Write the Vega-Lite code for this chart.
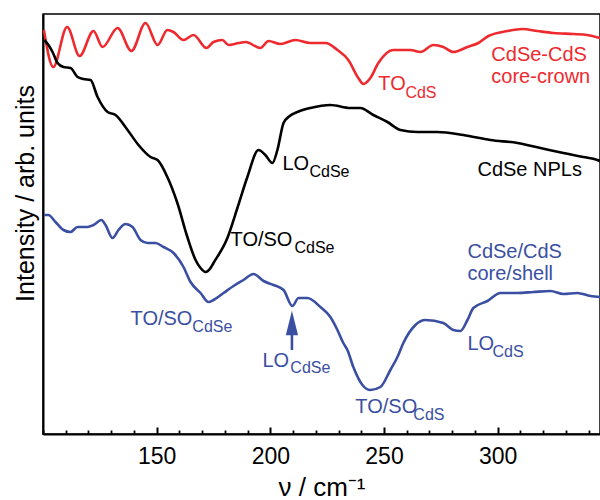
{
  "$schema": "https://vega.github.io/schema/vega-lite/v6.json",
  "width": 557,
  "height": 420,
  "padding": {"left": 43, "top": 14, "right": 0, "bottom": 66},
  "autosize": {"type": "none"},
  "config": {"font": "Liberation Sans", "view": {"stroke": "black", "strokeWidth": 1.5}},
  "datasets": {
    "curves": [
      {"series": "CdSe-CdS core-crown", "x": 100.4, "y": 404}, {"series": "CdSe-CdS core-crown", "x": 104.5, "y": 367}, {"series": "CdSe-CdS core-crown", "x": 110.6, "y": 407}, {"series": "CdSe-CdS core-crown", "x": 116.1, "y": 378}, {"series": "CdSe-CdS core-crown", "x": 122.2, "y": 403}, {"series": "CdSe-CdS core-crown", "x": 126.2, "y": 387}, {"series": "CdSe-CdS core-crown", "x": 132.8, "y": 406}, {"series": "CdSe-CdS core-crown", "x": 138.9, "y": 383}, {"series": "CdSe-CdS core-crown", "x": 145.1, "y": 411}, {"series": "CdSe-CdS core-crown", "x": 150.4, "y": 389}, {"series": "CdSe-CdS core-crown", "x": 154.7, "y": 404}, {"series": "CdSe-CdS core-crown", "x": 157.4, "y": 402}, {"series": "CdSe-CdS core-crown", "x": 161.8, "y": 394}, {"series": "CdSe-CdS core-crown", "x": 166.2, "y": 399}, {"series": "CdSe-CdS core-crown", "x": 171.9, "y": 386}, {"series": "CdSe-CdS core-crown", "x": 175.0, "y": 392}, {"series": "CdSe-CdS core-crown", "x": 178.9, "y": 394}, {"series": "CdSe-CdS core-crown", "x": 181.6, "y": 389}, {"series": "CdSe-CdS core-crown", "x": 186.0, "y": 391}, {"series": "CdSe-CdS core-crown", "x": 189.1, "y": 392}, {"series": "CdSe-CdS core-crown", "x": 195.6, "y": 386}, {"series": "CdSe-CdS core-crown", "x": 199.2, "y": 393}, {"series": "CdSe-CdS core-crown", "x": 204.4, "y": 390}, {"series": "CdSe-CdS core-crown", "x": 211.0, "y": 394}, {"series": "CdSe-CdS core-crown", "x": 217.6, "y": 391}, {"series": "CdSe-CdS core-crown", "x": 224.3, "y": 391}, {"series": "CdSe-CdS core-crown", "x": 229.5, "y": 384}, {"series": "CdSe-CdS core-crown", "x": 234.3, "y": 374}, {"series": "CdSe-CdS core-crown", "x": 238.7, "y": 356}, {"series": "CdSe-CdS core-crown", "x": 240.9, "y": 350}, {"series": "CdSe-CdS core-crown", "x": 244.0, "y": 356}, {"series": "CdSe-CdS core-crown", "x": 247.5, "y": 371}, {"series": "CdSe-CdS core-crown", "x": 254.1, "y": 384}, {"series": "CdSe-CdS core-crown", "x": 261.6, "y": 384}, {"series": "CdSe-CdS core-crown", "x": 266.0, "y": 382}, {"series": "CdSe-CdS core-crown", "x": 271.7, "y": 389}, {"series": "CdSe-CdS core-crown", "x": 276.1, "y": 387}, {"series": "CdSe-CdS core-crown", "x": 280.5, "y": 382}, {"series": "CdSe-CdS core-crown", "x": 286.7, "y": 387}, {"series": "CdSe-CdS core-crown", "x": 291.5, "y": 391}, {"series": "CdSe-CdS core-crown", "x": 295.9, "y": 398}, {"series": "CdSe-CdS core-crown", "x": 304.3, "y": 403}, {"series": "CdSe-CdS core-crown", "x": 310.9, "y": 405}, {"series": "CdSe-CdS core-crown", "x": 317.5, "y": 403}, {"series": "CdSe-CdS core-crown", "x": 324.5, "y": 401}, {"series": "CdSe-CdS core-crown", "x": 333.3, "y": 400}, {"series": "CdSe-CdS core-crown", "x": 339.4, "y": 399}, {"series": "CdSe-CdS core-crown", "x": 345.0, "y": 396},
      {"series": "CdSe NPLs", "x": 100.5, "y": 394}, {"series": "CdSe NPLs", "x": 102.4, "y": 389}, {"series": "CdSe NPLs", "x": 104.2, "y": 382}, {"series": "CdSe NPLs", "x": 106.4, "y": 371}, {"series": "CdSe NPLs", "x": 109.0, "y": 367}, {"series": "CdSe NPLs", "x": 112.1, "y": 366}, {"series": "CdSe NPLs", "x": 115.2, "y": 357}, {"series": "CdSe NPLs", "x": 117.8, "y": 355}, {"series": "CdSe NPLs", "x": 120.9, "y": 354}, {"series": "CdSe NPLs", "x": 124.0, "y": 337}, {"series": "CdSe NPLs", "x": 128.4, "y": 322}, {"series": "CdSe NPLs", "x": 131.9, "y": 319}, {"series": "CdSe NPLs", "x": 137.2, "y": 304}, {"series": "CdSe NPLs", "x": 142.0, "y": 289}, {"series": "CdSe NPLs", "x": 147.3, "y": 277}, {"series": "CdSe NPLs", "x": 150.4, "y": 274}, {"series": "CdSe NPLs", "x": 154.7, "y": 257}, {"series": "CdSe NPLs", "x": 159.1, "y": 231}, {"series": "CdSe NPLs", "x": 163.5, "y": 197}, {"series": "CdSe NPLs", "x": 167.1, "y": 174}, {"series": "CdSe NPLs", "x": 169.3, "y": 166}, {"series": "CdSe NPLs", "x": 171.5, "y": 162}, {"series": "CdSe NPLs", "x": 173.7, "y": 166}, {"series": "CdSe NPLs", "x": 175.0, "y": 171}, {"series": "CdSe NPLs", "x": 181.1, "y": 196}, {"series": "CdSe NPLs", "x": 185.5, "y": 226}, {"series": "CdSe NPLs", "x": 189.9, "y": 257}, {"series": "CdSe NPLs", "x": 194.8, "y": 284}, {"series": "CdSe NPLs", "x": 197.8, "y": 279}, {"series": "CdSe NPLs", "x": 200.9, "y": 271}, {"series": "CdSe NPLs", "x": 203.1, "y": 284}, {"series": "CdSe NPLs", "x": 205.8, "y": 311}, {"series": "CdSe NPLs", "x": 208.5, "y": 318}, {"series": "CdSe NPLs", "x": 211.9, "y": 322}, {"series": "CdSe NPLs", "x": 217.6, "y": 326}, {"series": "CdSe NPLs", "x": 226.4, "y": 329}, {"series": "CdSe NPLs", "x": 235.2, "y": 326}, {"series": "CdSe NPLs", "x": 239.6, "y": 326}, {"series": "CdSe NPLs", "x": 245.3, "y": 319}, {"series": "CdSe NPLs", "x": 251.5, "y": 312}, {"series": "CdSe NPLs", "x": 257.2, "y": 304}, {"series": "CdSe NPLs", "x": 264.7, "y": 302}, {"series": "CdSe NPLs", "x": 273.5, "y": 302}, {"series": "CdSe NPLs", "x": 284.9, "y": 299}, {"series": "CdSe NPLs", "x": 296.8, "y": 294}, {"series": "CdSe NPLs", "x": 308.7, "y": 291}, {"series": "CdSe NPLs", "x": 318.8, "y": 286}, {"series": "CdSe NPLs", "x": 328.9, "y": 281}, {"series": "CdSe NPLs", "x": 337.7, "y": 277}, {"series": "CdSe NPLs", "x": 343.8, "y": 274}, {"series": "CdSe NPLs", "x": 345.0, "y": 273},
      {"series": "CdSe/CdS core/shell", "x": 100.5, "y": 219}, {"series": "CdSe/CdS core/shell", "x": 102.4, "y": 219}, {"series": "CdSe/CdS core/shell", "x": 105.5, "y": 212}, {"series": "CdSe/CdS core/shell", "x": 109.0, "y": 204}, {"series": "CdSe/CdS core/shell", "x": 112.1, "y": 202}, {"series": "CdSe/CdS core/shell", "x": 115.2, "y": 207}, {"series": "CdSe/CdS core/shell", "x": 119.6, "y": 207}, {"series": "CdSe/CdS core/shell", "x": 122.2, "y": 209}, {"series": "CdSe/CdS core/shell", "x": 125.7, "y": 214}, {"series": "CdSe/CdS core/shell", "x": 127.5, "y": 209}, {"series": "CdSe/CdS core/shell", "x": 130.6, "y": 196}, {"series": "CdSe/CdS core/shell", "x": 133.2, "y": 204}, {"series": "CdSe/CdS core/shell", "x": 136.3, "y": 210}, {"series": "CdSe/CdS core/shell", "x": 139.4, "y": 207}, {"series": "CdSe/CdS core/shell", "x": 142.9, "y": 194}, {"series": "CdSe/CdS core/shell", "x": 146.0, "y": 191}, {"series": "CdSe/CdS core/shell", "x": 149.5, "y": 191}, {"series": "CdSe/CdS core/shell", "x": 153.0, "y": 187}, {"series": "CdSe/CdS core/shell", "x": 157.4, "y": 181}, {"series": "CdSe/CdS core/shell", "x": 161.8, "y": 167}, {"series": "CdSe/CdS core/shell", "x": 164.9, "y": 152}, {"series": "CdSe/CdS core/shell", "x": 169.3, "y": 141}, {"series": "CdSe/CdS core/shell", "x": 172.8, "y": 132}, {"series": "CdSe/CdS core/shell", "x": 175.0, "y": 134}, {"series": "CdSe/CdS core/shell", "x": 179.4, "y": 141}, {"series": "CdSe/CdS core/shell", "x": 183.8, "y": 148}, {"series": "CdSe/CdS core/shell", "x": 188.2, "y": 154}, {"series": "CdSe/CdS core/shell", "x": 192.6, "y": 160}, {"series": "CdSe/CdS core/shell", "x": 197.0, "y": 153}, {"series": "CdSe/CdS core/shell", "x": 201.4, "y": 149}, {"series": "CdSe/CdS core/shell", "x": 205.8, "y": 144}, {"series": "CdSe/CdS core/shell", "x": 209.7, "y": 128}, {"series": "CdSe/CdS core/shell", "x": 212.4, "y": 136}, {"series": "CdSe/CdS core/shell", "x": 216.3, "y": 136}, {"series": "CdSe/CdS core/shell", "x": 222.0, "y": 127}, {"series": "CdSe/CdS core/shell", "x": 226.4, "y": 117}, {"series": "CdSe/CdS core/shell", "x": 229.5, "y": 104}, {"series": "CdSe/CdS core/shell", "x": 232.1, "y": 91}, {"series": "CdSe/CdS core/shell", "x": 233.9, "y": 84}, {"series": "CdSe/CdS core/shell", "x": 236.5, "y": 67}, {"series": "CdSe/CdS core/shell", "x": 240.5, "y": 49}, {"series": "CdSe/CdS core/shell", "x": 244.0, "y": 44}, {"series": "CdSe/CdS core/shell", "x": 248.4, "y": 47}, {"series": "CdSe/CdS core/shell", "x": 252.8, "y": 64}, {"series": "CdSe/CdS core/shell", "x": 255.9, "y": 77}, {"series": "CdSe/CdS core/shell", "x": 258.5, "y": 91}, {"series": "CdSe/CdS core/shell", "x": 263.8, "y": 109}, {"series": "CdSe/CdS core/shell", "x": 268.2, "y": 114}, {"series": "CdSe/CdS core/shell", "x": 276.1, "y": 111}, {"series": "CdSe/CdS core/shell", "x": 280.5, "y": 104}, {"series": "CdSe/CdS core/shell", "x": 283.6, "y": 103}, {"series": "CdSe/CdS core/shell", "x": 286.7, "y": 114}, {"series": "CdSe/CdS core/shell", "x": 289.3, "y": 126}, {"series": "CdSe/CdS core/shell", "x": 295.5, "y": 133}, {"series": "CdSe/CdS core/shell", "x": 301.2, "y": 141}, {"series": "CdSe/CdS core/shell", "x": 308.7, "y": 141}, {"series": "CdSe/CdS core/shell", "x": 315.7, "y": 142}, {"series": "CdSe/CdS core/shell", "x": 323.2, "y": 143}, {"series": "CdSe/CdS core/shell", "x": 328.9, "y": 140}, {"series": "CdSe/CdS core/shell", "x": 335.0, "y": 141}, {"series": "CdSe/CdS core/shell", "x": 340.8, "y": 138}, {"series": "CdSe/CdS core/shell", "x": 345.0, "y": 137}
    ],
    "labels": [
      {"series": "CdSe-CdS core-crown", "part": "main", "text": "TO", "x": 247.5, "y": 344},
      {"series": "CdSe-CdS core-crown", "part": "sub", "text": "CdS", "x": 259.4, "y": 336},
      {"series": "CdSe-CdS core-crown", "part": "main", "text": "CdSe-CdS", "x": 297.2, "y": 373},
      {"series": "CdSe-CdS core-crown", "part": "main", "text": "core-crown", "x": 297.2, "y": 351},
      {"series": "CdSe NPLs", "part": "main", "text": "LO", "x": 205.3, "y": 264},
      {"series": "CdSe NPLs", "part": "sub", "text": "CdSe", "x": 217.2, "y": 257},
      {"series": "CdSe NPLs", "part": "main", "text": "CdSe NPLs", "x": 291.1, "y": 258},
      {"series": "CdSe NPLs", "part": "main", "text": "TO/SO", "x": 182.5, "y": 188},
      {"series": "CdSe NPLs", "part": "sub", "text": "CdSe", "x": 210.6, "y": 181},
      {"series": "CdSe/CdS core/shell", "part": "main", "text": "CdSe/CdS", "x": 286.7, "y": 176},
      {"series": "CdSe/CdS core/shell", "part": "main", "text": "core/shell", "x": 286.7, "y": 154},
      {"series": "CdSe/CdS core/shell", "part": "main", "text": "TO/SO", "x": 138.5, "y": 109},
      {"series": "CdSe/CdS core/shell", "part": "sub", "text": "CdSe", "x": 165.7, "y": 102},
      {"series": "CdSe/CdS core/shell", "part": "main", "text": "LO", "x": 196.5, "y": 67},
      {"series": "CdSe/CdS core/shell", "part": "sub", "text": "CdSe", "x": 208.8, "y": 61},
      {"series": "CdSe/CdS core/shell", "part": "main", "text": "TO/SO", "x": 237.4, "y": 21},
      {"series": "CdSe/CdS core/shell", "part": "sub", "text": "CdS", "x": 262.9, "y": 14},
      {"series": "CdSe/CdS core/shell", "part": "main", "text": "LO", "x": 286.7, "y": 84},
      {"series": "CdSe/CdS core/shell", "part": "sub", "text": "CdS", "x": 297.7, "y": 77}
    ],
    "arrow": [
      {"series": "CdSe/CdS core/shell", "x": 209.5, "y": 84, "y2": 106, "head": 111}
    ]
  },
  "resolve": {"scale": {"x": "shared"}, "axis": {"x": "independent"}},
  "layer": [
    {
      "data": {"name": "curves"},
      "mark": {"type": "line", "strokeWidth": 2.6, "interpolate": "monotone"},
      "encoding": {
        "x": {
          "field": "x", "type": "quantitative",
          "scale": {"domain": [100, 345], "nice": false, "zero": false},
          "axis": {
            "orient": "bottom", "values": [150, 200, 250, 300], "grid": false,
            "ticks": false,
            "domainColor": "black", "domainWidth": 2,
            "labelFontSize": 23, "labelColor": "black", "labelPadding": 11,
            "title": "ν / cm⁻¹", "titleFontSize": 26, "titleFontWeight": "normal",
            "titleColor": "black", "titlePadding": 6
          }
        },
        "y": {
          "field": "y", "type": "quantitative",
          "scale": {"domain": [0, 420], "nice": false, "zero": false},
          "axis": {
            "grid": false, "ticks": false, "labels": false,
            "domainColor": "black", "domainWidth": 2,
            "title": "Intensity / arb. units", "titleFontSize": 25, "titleFontWeight": "normal",
            "titleColor": "black", "titleBaseline": "alphabetic", "titleX": -10, "titleY": 179
          }
        },
        "color": {
          "field": "series", "type": "nominal",
          "scale": {"domain": ["CdSe-CdS core-crown", "CdSe NPLs", "CdSe/CdS core/shell"], "range": ["#ee2a2f", "#000000", "#3a4fa2"]},
          "legend": null
        }
      }
    },
    {
      "data": {"name": "labels"},
      "transform": [{"filter": "datum.part === 'main'"}],
      "mark": {"type": "text", "fontSize": 20, "align": "left", "baseline": "alphabetic"},
      "encoding": {
        "x": {
          "field": "x", "type": "quantitative",
          "axis": {
            "orient": "top", "offset": -420, "values": [150, 200, 250, 300],
            "labels": false, "domain": false, "grid": false, "title": null,
            "tickSize": 7, "tickWidth": 2, "tickColor": "black"
          }
        },
        "y": {"field": "y", "type": "quantitative"},
        "text": {"field": "text"},
        "color": {"field": "series", "type": "nominal", "legend": null}
      }
    },
    {
      "data": {"name": "labels"},
      "transform": [{"filter": "datum.part === 'sub'"}],
      "mark": {"type": "text", "fontSize": 16, "align": "left", "baseline": "alphabetic"},
      "encoding": {
        "x": {"field": "x", "type": "quantitative", "axis": null},
        "y": {"field": "y", "type": "quantitative"},
        "text": {"field": "text"},
        "color": {"field": "series", "type": "nominal", "legend": null}
      }
    },
    {
      "data": {"name": "arrow"},
      "mark": {"type": "rule", "strokeWidth": 2.6},
      "encoding": {
        "x": {"field": "x", "type": "quantitative", "axis": null},
        "y": {"field": "y", "type": "quantitative"},
        "y2": {"field": "y2"},
        "color": {"field": "series", "type": "nominal", "legend": null}
      }
    },
    {
      "data": {"name": "arrow"},
      "mark": {"type": "point", "shape": "M-0.5,1L0,-1L0.5,1Z", "filled": true, "size": 600, "opacity": 1},
      "encoding": {
        "x": {
          "field": "x", "type": "quantitative",
          "axis": {
            "orient": "top", "offset": -420,
            "values": [100, 110, 120, 130, 140, 160, 170, 180, 190, 210, 220, 230, 240, 260, 270, 280, 290, 310, 320, 330, 340],
            "labels": false, "domain": false, "grid": false, "title": null,
            "tickSize": 4, "tickWidth": 1.8, "tickColor": "black"
          }
        },
        "y": {"field": "head", "type": "quantitative"},
        "color": {"field": "series", "type": "nominal", "legend": null}
      }
    }
  ]
}
